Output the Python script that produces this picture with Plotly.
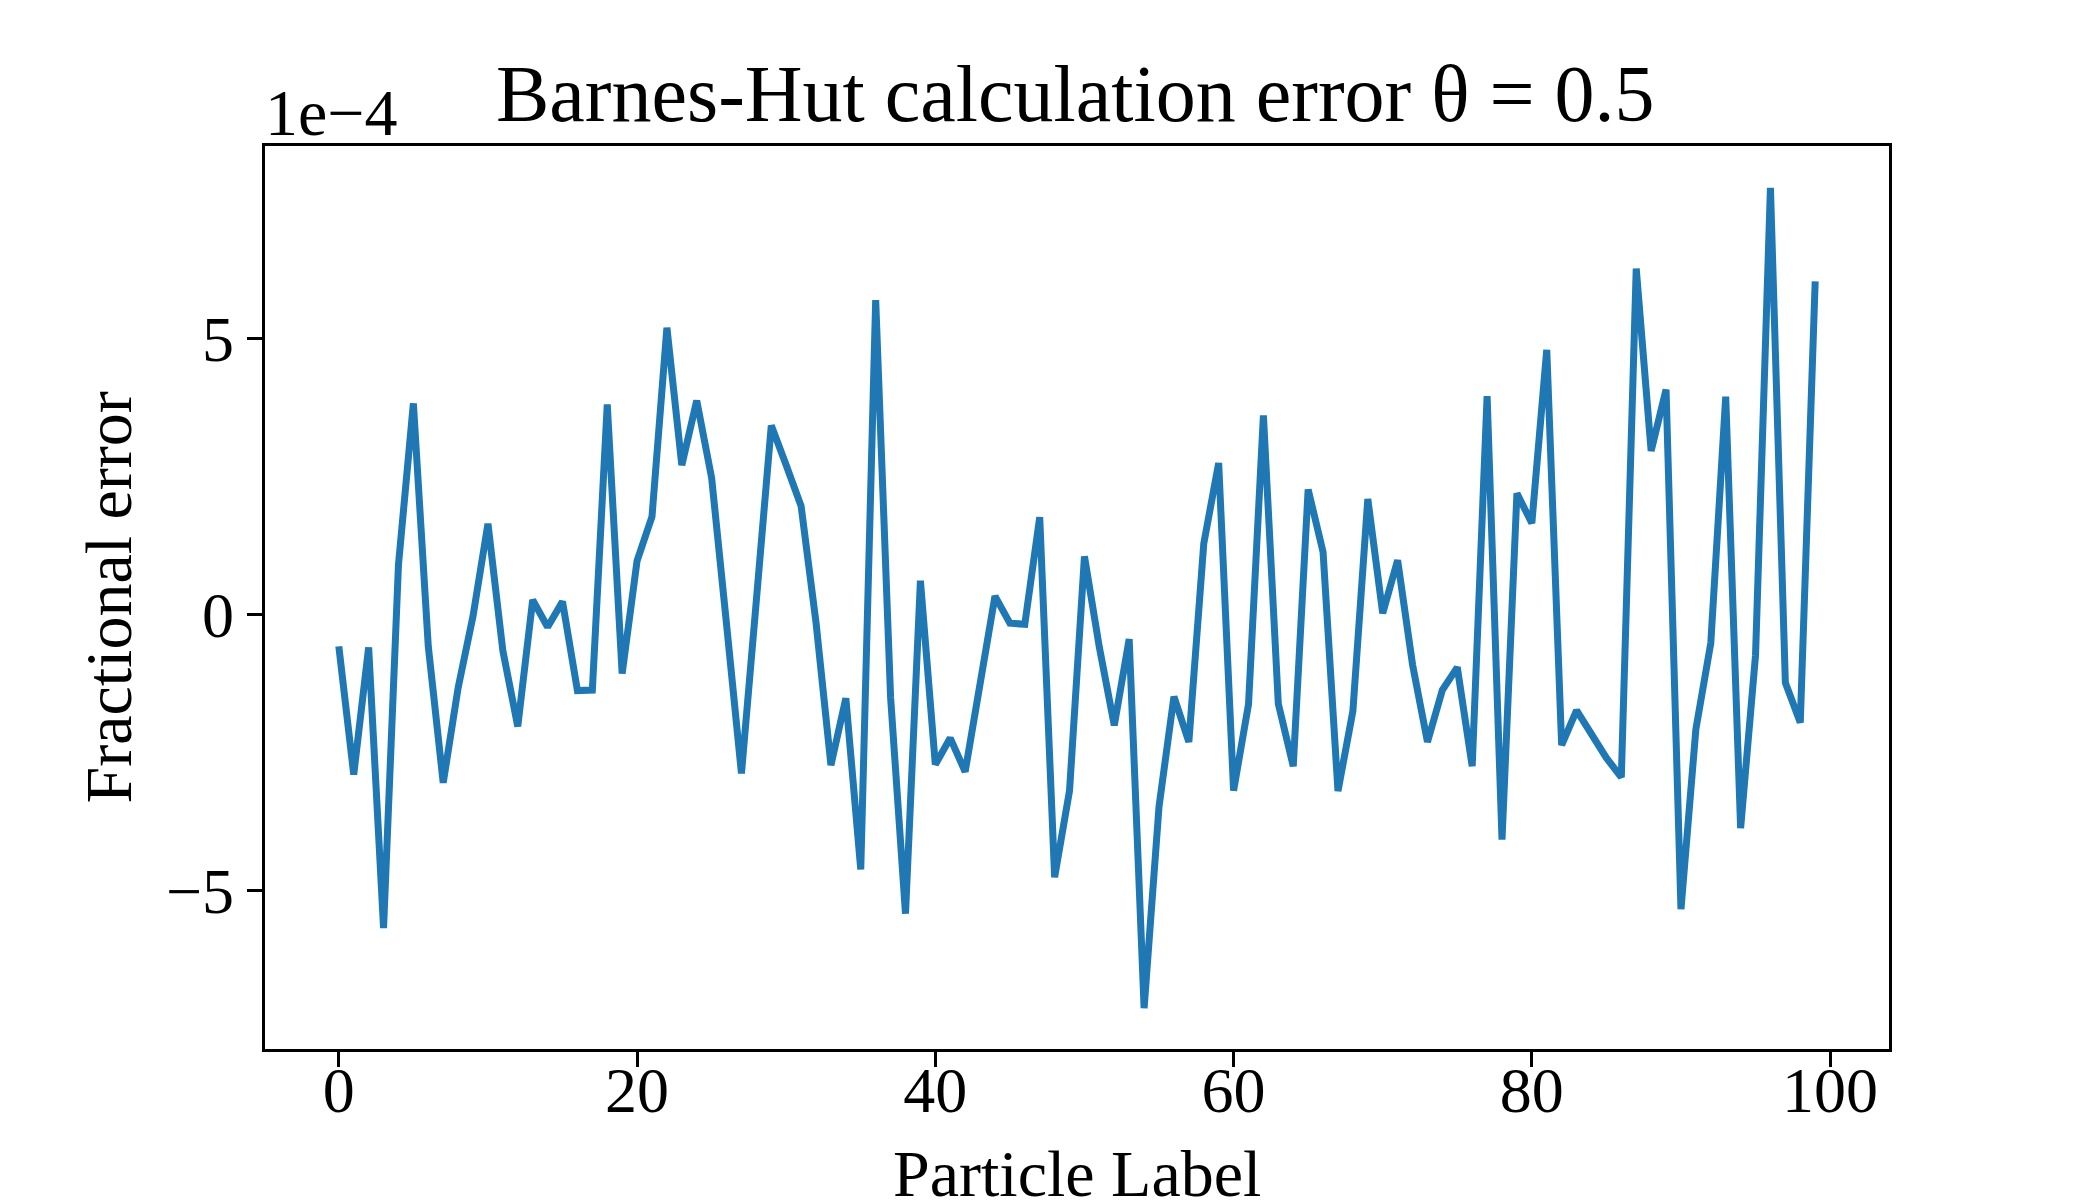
import plotly.graph_objects as go

# fractional error per particle, in units of 1e-4
particle = list(range(100))
frac_err = [
    -0.58, -2.90, -0.60, -5.68, 0.90, 3.82, -0.58, -3.05, -1.33, -0.03,
    1.64, -0.66, -2.03, 0.26, -0.23, 0.23, -1.38, -1.37, 3.80, -1.07,
    0.97, 1.77, 5.19, 2.70, 3.87, 2.47, -0.18, -2.88, 0.26, 3.42,
    2.70, 1.96, -0.15, -2.73, -1.52, -4.62, 5.69, -1.50, -5.42, 0.61,
    -2.72, -2.24, -2.85, -1.22, 0.33, -0.16, -0.18, 1.76, -4.76, -3.19,
    1.05, -0.60, -2.01, -0.45, -7.13, -3.48, -1.49, -2.31, 1.28, 2.74,
    -3.19, -1.63, 3.60, -1.62, -2.75, 2.26, 1.13, -3.20, -1.75, 2.09,
    0.02, 0.98, -0.91, -2.31, -1.37, -0.96, -2.75, 3.95, -4.08, 2.19,
    1.65, 4.79, -2.37, -1.74, -2.20, -2.60, -2.95, 6.26, 2.96, 4.07,
    -5.34, -2.08, -0.52, 3.94, -3.87, -0.74, 7.72, -1.24, -1.96, 6.03,
]
scale = 1e-4
ytick_vals = [-5, 0, 5]
ytick_text = ["\u22125", "0", "5"]
xtick_vals = [0, 20, 40, 60, 80, 100]

serif = "Liberation Serif, Times New Roman, serif"

fig = go.Figure(go.Scatter(
    x=particle,
    y=[v * scale for v in frac_err],
    mode="lines",
    line=dict(color="#1f77b4", width=7),
))

axis_style = dict(
    showgrid=False, zeroline=False,
    showline=True, mirror=True, linecolor="black", linewidth=3.3,
    ticks="outside", ticklen=15, tickwidth=3.3, tickcolor="black",
    tickfont=dict(family=serif, size=64, color="black"),
)

fig.update_xaxes(range=[-4.95, 103.95], tickvals=xtick_vals,
                 ticklabelstandoff=-32, **axis_style)
fig.update_yaxes(range=[-7.87e-4, 8.48e-4],
                 tickvals=[v * scale for v in ytick_vals], ticktext=ytick_text,
                 **axis_style)

# the page body adds a small offset, so margins are shifted to compensate
fig.update_layout(
    width=2100, height=1200,
    margin=dict(l=257, r=219, t=138, b=159),
    paper_bgcolor="white", plot_bgcolor="white",
    showlegend=False,
    font=dict(family=serif, color="black"),
    annotations=[
        dict(text="Barnes-Hut calculation error \u03b8 = 0.5", xref="paper", yref="paper",
             x=0.5, y=1, xanchor="center", yanchor="bottom", yshift=6, xshift=-2,
             showarrow=False, font=dict(size=80)),
        dict(text="1e\u22124", xref="paper", yref="paper",
             x=0, y=1, xanchor="left", yanchor="bottom", yshift=-5, xshift=-2,
             showarrow=False, font=dict(size=66)),
        dict(text="Fractional error", xref="paper", yref="paper",
             x=0, y=0.5, xanchor="center", yanchor="middle", xshift=-157, yshift=0,
             textangle=-90, showarrow=False, font=dict(size=66)),
        dict(text="Particle Label", xref="paper", yref="paper",
             x=0.5, y=0, xanchor="center", yanchor="top", yshift=-86,
             showarrow=False, font=dict(size=66)),
    ],
)

fig.write_html("out.html")
